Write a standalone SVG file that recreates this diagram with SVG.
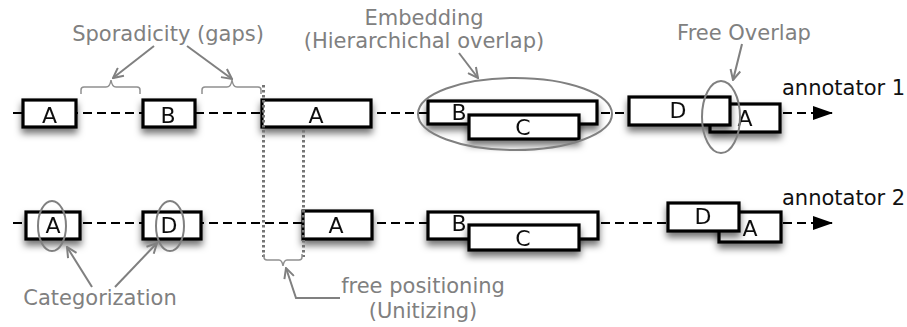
<svg xmlns="http://www.w3.org/2000/svg" width="907" height="327" viewBox="0 0 907 327">
  <style>
    .box { fill: #ffffff; stroke: #000000; stroke-width: 3.2; }
    .lbl { font-family: "DejaVu Sans", "Liberation Sans", sans-serif; font-size: 22px; fill: #111111; text-anchor: middle; }
    .note { font-family: "DejaVu Sans", "Liberation Sans", sans-serif; font-size: 21px; fill: #808080; }
    .axis-lbl { font-family: "DejaVu Sans", "Liberation Sans", sans-serif; font-size: 21px; fill: #111111; }
    .timeline { fill: none; stroke: #000000; stroke-width: 2.2; stroke-dasharray: 9 5; }
    .gray { fill: none; stroke: #808080; stroke-width: 2; }
    .thin { fill: none; stroke: #909090; stroke-width: 1.5; }
    .dots { fill: none; stroke: #757575; stroke-width: 3; stroke-dasharray: 2.5 2.5; }
    .ring { fill: none; stroke: #808080; stroke-width: 2; }
  </style>
  <defs>
    <filter id="shadow" x="-20%" y="-40%" width="140%" height="220%">
      <feDropShadow dx="0" dy="5" stdDeviation="3.5" flood-color="#000000" flood-opacity="0.55"/>
    </filter>
    <marker id="open" viewBox="0 0 12 12" refX="11" refY="6" markerWidth="12" markerHeight="12" markerUnits="userSpaceOnUse" orient="auto">
      <path d="M1,1 L11,6 L1,11" fill="none" stroke="#808080" stroke-width="2"/>
    </marker>
    <marker id="solid" viewBox="0 0 20 14" refX="19" refY="7" markerWidth="20" markerHeight="14" markerUnits="userSpaceOnUse" orient="auto">
      <path d="M0,0 L20,7 L0,14 Z" fill="#000000"/>
    </marker>
  </defs>

  <!-- timelines -->
  <g id="connectors">
    <line class="timeline" x1="13" y1="113" x2="832" y2="113" marker-end="url(#solid)"/>
    <line class="timeline" x1="13" y1="223" x2="832" y2="223" marker-end="url(#solid)"/>
  </g>

  <!-- annotator 1 -->
  <g id="r1-a1" filter="url(#shadow)">
    <rect class="box" x="23" y="100" width="53" height="27"/>
    <text class="lbl" x="49.5" y="123">A</text>
  </g>
  <g id="r1-b1" filter="url(#shadow)">
    <rect class="box" x="143" y="100" width="52" height="27"/>
    <text class="lbl" x="168" y="123">B</text>
  </g>
  <g id="r1-a2" filter="url(#shadow)">
    <rect class="box" x="262" y="100" width="109" height="27"/>
    <text class="lbl" x="316" y="123">A</text>
  </g>
  <g id="r1-b2" filter="url(#shadow)">
    <rect class="box" x="428" y="101" width="169" height="23"/>
    <text class="lbl" x="459" y="120">B</text>
  </g>
  <g id="r1-c" filter="url(#shadow)">
    <rect class="box" x="469" y="115" width="110" height="24"/>
    <text class="lbl" x="523" y="135">C</text>
  </g>
  <g id="r1-a3" filter="url(#shadow)">
    <rect class="box" x="710" y="104" width="70" height="28"/>
    <text class="lbl" x="745" y="126">A</text>
  </g>
  <g id="r1-d" filter="url(#shadow)">
    <rect class="box" x="629" y="97" width="101" height="28"/>
    <text class="lbl" x="678" y="118">D</text>
  </g>
  <text class="axis-lbl" x="782" y="95">annotator 1</text>

  <!-- annotator 2 -->
  <g id="r2-a1" filter="url(#shadow)">
    <rect class="box" x="26" y="212" width="54" height="27"/>
    <text class="lbl" x="53" y="233">A</text>
  </g>
  <g id="r2-d1" filter="url(#shadow)">
    <rect class="box" x="143" y="212" width="58" height="27"/>
    <text class="lbl" x="169" y="233">D</text>
  </g>
  <g id="r2-a2" filter="url(#shadow)">
    <rect class="box" x="303" y="211" width="69" height="28"/>
    <text class="lbl" x="336" y="233">A</text>
  </g>
  <g id="r2-b" filter="url(#shadow)">
    <rect class="box" x="428" y="212" width="170" height="27"/>
    <text class="lbl" x="459" y="231">B</text>
  </g>
  <g id="r2-c" filter="url(#shadow)">
    <rect class="box" x="469" y="225" width="110" height="25"/>
    <text class="lbl" x="523" y="246">C</text>
  </g>
  <g id="r2-a3" filter="url(#shadow)">
    <rect class="box" x="719" y="212" width="62" height="30"/>
    <text class="lbl" x="750" y="236">A</text>
  </g>
  <g id="r2-d2" filter="url(#shadow)">
    <rect class="box" x="668" y="203" width="71" height="28"/>
    <text class="lbl" x="703" y="224">D</text>
  </g>
  <text class="axis-lbl" x="782" y="205">annotator 2</text>

  <!-- highlight rings -->
  <g id="rings">
    <ellipse class="ring" cx="515" cy="114" rx="97" ry="36"/>
    <ellipse class="ring" cx="721" cy="117" rx="19" ry="36"/>
    <ellipse class="ring" cx="52" cy="226" rx="14" ry="25"/>
    <ellipse class="ring" cx="170" cy="226" rx="14" ry="25"/>
  </g>

  <!-- span guides -->
  <g id="guides">
    <line class="dots" x1="263.5" y1="85" x2="263.5" y2="257"/>
    <line class="dots" x1="303.5" y1="130" x2="303.5" y2="257"/>
    <path class="thin" d="M81,94 V90 Q81,87 84,87 H106 Q110,87 111,80 Q112,87 116,87 H137 Q140,87 140,90 V94"/>
    <path class="thin" d="M202,94 V90 Q202,87 205,87 H227 Q231,87 232,80 Q233,87 237,87 H258 Q261,87 261,90 V94"/>
    <path class="thin" d="M264,254 V257 Q264,260 267,260 H279 Q282,260 283,266 Q284,260 287,260 H299 Q302,260 302,257 V254"/>
  </g>

  <!-- annotation arrows -->
  <g id="annotation-arrows">
    <line class="gray" x1="154" y1="46" x2="113" y2="78" marker-end="url(#open)"/>
    <line class="gray" x1="187" y1="46" x2="232" y2="79" marker-end="url(#open)"/>
    <line class="gray" x1="459" y1="53" x2="478" y2="78" marker-end="url(#open)"/>
    <line class="gray" x1="742" y1="44" x2="733" y2="80" marker-end="url(#open)"/>
    <line class="gray" x1="92" y1="287" x2="67" y2="247" marker-end="url(#open)"/>
    <line class="gray" x1="115" y1="287" x2="157" y2="243" marker-end="url(#open)"/>
    <polyline class="gray" points="340,298 296,298 286,268" marker-end="url(#open)"/>
  </g>

  <!-- annotation labels -->
  <g id="labels">
    <text class="note" x="168" y="41" text-anchor="middle">Sporadicity (gaps)</text>
    <text class="note" x="424" y="25" text-anchor="middle">Embedding</text>
    <text class="note" x="424" y="48" text-anchor="middle">(Hierarchichal overlap)</text>
    <text class="note" x="744" y="40" text-anchor="middle">Free Overlap</text>
    <text class="note" x="100" y="305" text-anchor="middle">Categorization</text>
    <text class="note" x="423" y="293" text-anchor="middle">free positioning</text>
    <text class="note" x="423" y="318" text-anchor="middle">(Unitizing)</text>
  </g>
</svg>
